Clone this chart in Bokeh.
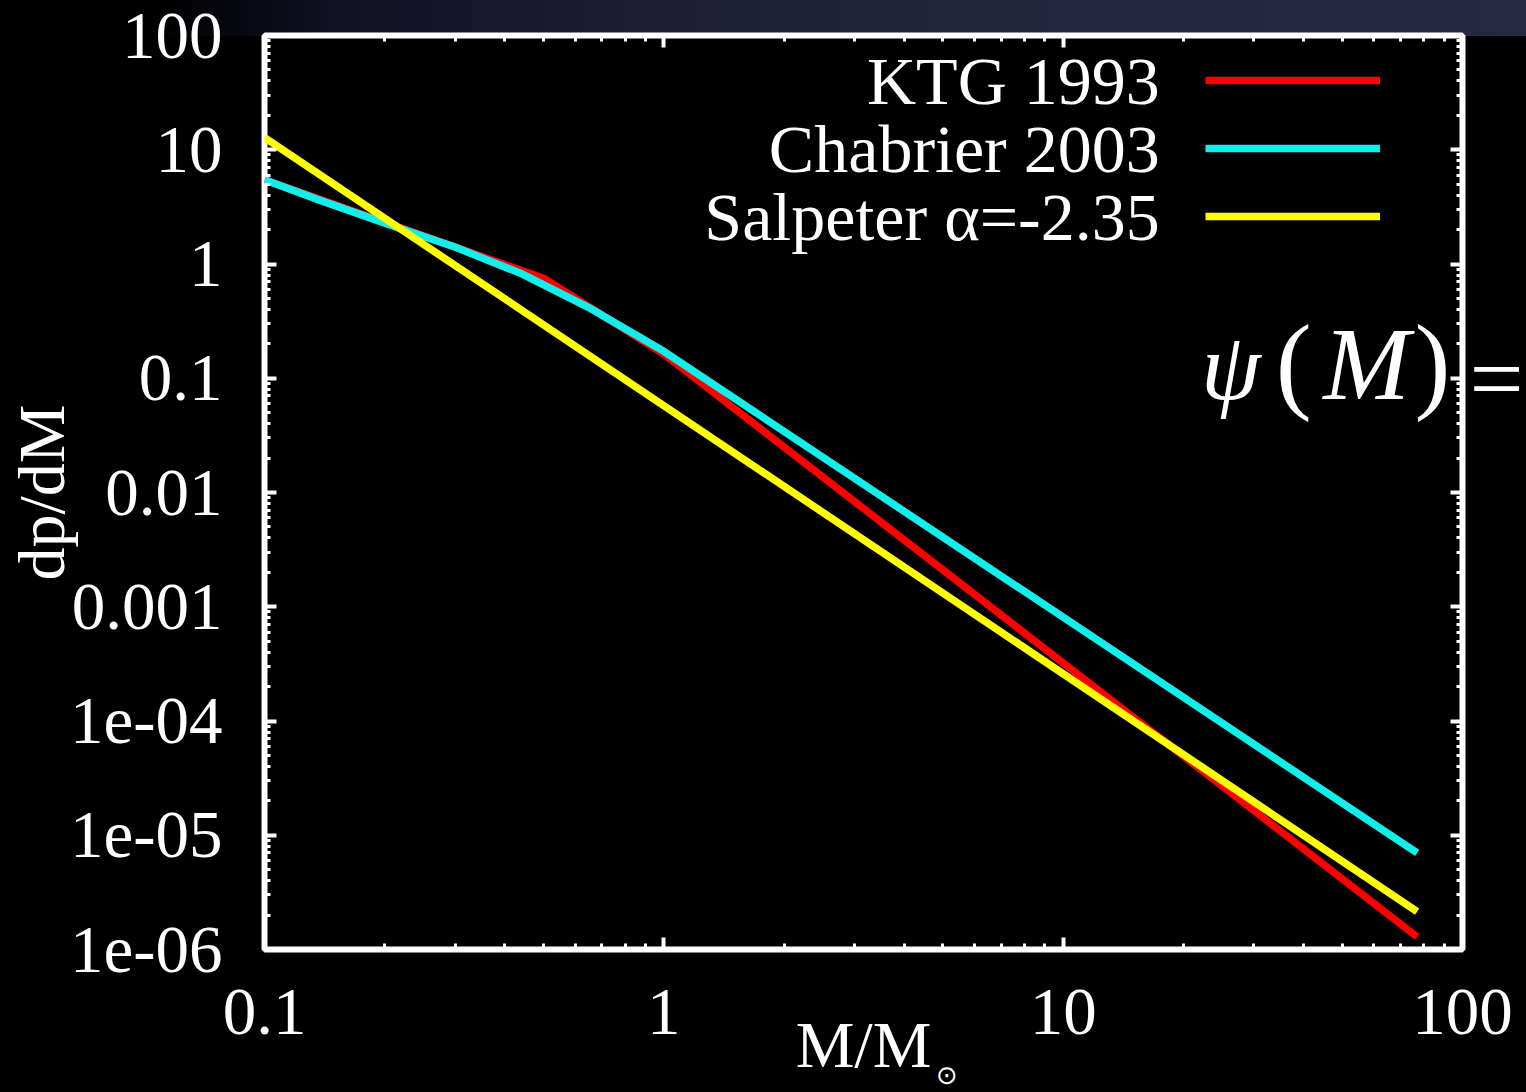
from bokeh.embed import file_html
from bokeh.models import (CustomJSTickFormatter, FixedTicker, Label, Legend,
                          LegendItem, LogAxis, Range1d)
from bokeh.plotting import figure
from bokeh.resources import INLINE

# ---- data: initial mass functions, dp/dM versus M/Msun ----
ktg_mass = [0.1, 0.5, 1.0, 77.0]
ktg_dpdm = [5.45, 0.75, 0.163, 1.29e-6]

chabrier_mass = [0.1, 0.139, 0.221, 0.301, 0.441, 0.647, 1.0, 77.0]
chabrier_dpdm = [5.46, 3.57, 2.02, 1.40, 0.82, 0.418, 0.172, 7.0e-6]

salpeter_mass = [0.1, 77.0]
salpeter_dpdm = [12.8, 2.15e-6]

series_names = ["KTG 1993", "Chabrier 2003", "Salpeter \u03b1=-2.35"]
series_colors = ["#ff0000", "#12eeea", "#ffff00"]

x_tick_exps = [-1, 0, 1, 2]
x_tick_labels = ["0.1", "1", "10", "100"]
y_tick_exps = [-6, -5, -4, -3, -2, -1, 0, 1, 2]
y_tick_labels = ["1e-06", "1e-05", "1e-04", "0.001", "0.01", "0.1", "1", "10", "100"]

# ---- layout geometry (pixels) ----
W, H = 1526, 1092
LEFT, RIGHT, TOP, BOTTOM = 264, 63, 35, 142
FRAME_W = W - LEFT - RIGHT
FRAME_H = H - TOP - BOTTOM
X_DEC = FRAME_W / 3.0
Y_DEC = FRAME_H / 8.0


def xd(px):
    """canvas x pixel -> data x"""
    return 10 ** ((px - LEFT) / X_DEC - 1)


def yd(py):
    """canvas y pixel -> data y"""
    return 10 ** (2 - (py - TOP) / Y_DEC)


SERIF = "Liberation Serif"
WHITE = "#ffffff"
BASE_SHIFT = 0.35  # label baseline correction, in em

p = figure(width=W, height=H, x_axis_type="log", y_axis_type="log",
           x_range=Range1d(0.1, 100), y_range=Range1d(1e-6, 100),
           output_backend="svg", toolbar_location=None,
           min_border_left=LEFT, min_border_right=RIGHT,
           min_border_top=TOP, min_border_bottom=BOTTOM)

p.background_fill_color = "#000000"
p.border_fill_color = None
p.styles = {
    "background": "linear-gradient(to right, #000000 0%, #000000 10%, #101122 22%, "
                  "#1c1d35 40%, #23243e 65%, #272843 100%) 0 0 / 100% 36px no-repeat, #000000"
}
p.outline_line_color = WHITE
p.outline_line_width = 6
p.grid.visible = False

x_minor = [k * 10 ** e for e in range(-1, 2) for k in range(2, 10)]
y_minor = [k * 10 ** e for e in range(-6, 2) for k in range(2, 10)]
x_ticker = FixedTicker(ticks=[10 ** e for e in x_tick_exps], minor_ticks=x_minor)
y_ticker = FixedTicker(ticks=[10 ** e for e in y_tick_exps], minor_ticks=y_minor)

fmt_code = """
const e = Math.round(Math.log10(tick));
const i = exps.indexOf(e);
return i < 0 ? '' : labels[i];
"""
x_fmt = CustomJSTickFormatter(args=dict(exps=x_tick_exps, labels=x_tick_labels), code=fmt_code)
y_fmt = CustomJSTickFormatter(args=dict(exps=y_tick_exps, labels=y_tick_labels), code=fmt_code)
blank_fmt = CustomJSTickFormatter(code="return '';")


def style_axis(ax):
    ax.axis_line_color = None
    ax.major_tick_line_color = WHITE
    ax.minor_tick_line_color = WHITE
    ax.major_tick_line_width = 4
    ax.minor_tick_line_width = 3
    ax.major_tick_in = 12
    ax.major_tick_out = 0
    ax.minor_tick_in = 6
    ax.minor_tick_out = 0
    ax.major_label_text_font = SERIF
    ax.major_label_text_font_size = "67px"
    ax.major_label_text_color = WHITE
    ax.axis_label_text_font = SERIF
    ax.axis_label_text_font_size = "66px"
    ax.axis_label_text_font_style = "normal"
    ax.axis_label_text_color = WHITE


xa = p.xaxis[0]
xa.ticker = x_ticker
xa.formatter = x_fmt
style_axis(xa)
xa.major_label_standoff = 40
xa.axis_label = "M/M"
xa.axis_label_standoff = -29

ya = p.yaxis[0]
ya.ticker = y_ticker
ya.formatter = y_fmt
style_axis(ya)
ya.major_label_standoff = 42
ya.axis_label = "dp/dM"
ya.axis_label_standoff = -11

top_axis = LogAxis(ticker=x_ticker, formatter=blank_fmt, major_label_standoff=0)
style_axis(top_axis)
top_axis.major_label_text_font_size = "1px"
p.add_layout(top_axis, "above")

# mirrored ticks on the right; the "=" of the formula sits at the 0.1 level
right_axis = LogAxis(ticker=y_ticker, major_label_standoff=7,
                     formatter=CustomJSTickFormatter(
                         code="return Math.round(Math.log10(tick)) == -1 ? '=' : '';"))
style_axis(right_axis)
right_axis.major_label_text_font_size = "96px"
p.add_layout(right_axis, "right")

# solar-mass subscript of the x title
sun_axis = LogAxis(ticker=FixedTicker(ticks=[xd(947)]),
                   formatter=CustomJSTickFormatter(code="return '\u2299';"),
                   axis_line_color=None, major_tick_line_color=None, minor_tick_line_color=None,
                   major_label_standoff=-30, major_label_text_font="DejaVu Sans",
                   major_label_text_font_size="26px", major_label_text_color=WHITE)
p.add_layout(sun_axis, "below")

# ---- curves ----
r_ktg = p.line(ktg_mass, ktg_dpdm, line_color=series_colors[0], line_width=7.5, line_join="round")
r_chab = p.line(chabrier_mass, chabrier_dpdm, line_color=series_colors[1], line_width=7.5, line_join="round")
r_salp = p.line(salpeter_mass, salpeter_dpdm, line_color=series_colors[2], line_width=7.5, line_join="round")

# ---- key: sample lines from the renderers, names set to their left ----
legend = Legend(items=[LegendItem(label=" ", renderers=[r]) for r in (r_ktg, r_chab, r_salp)],
                location=(1205 - LEFT, (TOP + FRAME_H) - (71 + 156)),
                padding=0, margin=0, spacing=48,
                glyph_width=175, glyph_height=20,
                label_width=0, label_height=20, label_standoff=0,
                label_text_font_size="0px",
                background_fill_alpha=0, border_line_color=None)
p.add_layout(legend)

KEY_FS = 68
for i, name in enumerate(series_names):
    p.add_layout(Label(x=xd(1160), y=yd(104 + 68 * i - BASE_SHIFT * KEY_FS), text=name,
                       text_align="right", text_baseline="alphabetic",
                       text_font=SERIF, text_font_size=f"{KEY_FS}px", text_color=WHITE))

# ---- formula on the right ----
formula = [("\u03c8", 1231, "italic", 96), ("(", 1294, "normal", 108), ("M", 1367, "italic", 104),
           (")", 1433, "normal", 108)]
for ch, cx, style, fs in formula:
    p.add_layout(Label(x=xd(cx), y=yd(400 - BASE_SHIFT * fs), text=ch,
                       text_align="center", text_baseline="alphabetic",
                       text_font=SERIF, text_font_style=style,
                       text_font_size=f"{fs}px", text_color=WHITE))

open("out.html", "w").write(file_html(p, INLINE))
